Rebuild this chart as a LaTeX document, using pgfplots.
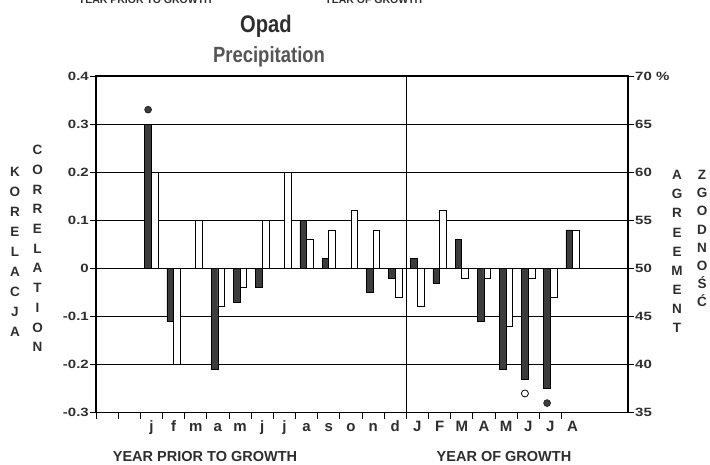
\documentclass[border=0pt]{standalone}
\usepackage{fontspec}
\setmainfont{Liberation Sans}
\newfontfamily\narrowfont{Liberation Sans}[FakeStretch=0.84]
\newfontfamily\widefont{Liberation Sans}[FakeStretch=1.25]
\usepackage{pgfplots}
\usepackage{pgfplotstable}
\pgfplotsset{compat=1.18}
\definecolor{txt}{HTML}{2E2E2E}
\definecolor{sub}{HTML}{555555}
\definecolor{barc}{HTML}{3C3C3C}

% x = slot centre, r = correlation, a = agreement (%)
\pgfplotstableread{
x r a
2.5 0.30 60
3.5 -0.11 40
4.5 0.00 55
5.5 -0.21 46
6.5 -0.07 48
7.5 -0.04 55
8.5 0.00 60
9.5 0.10 53
10.5 0.02 54
11.5 0.00 56
12.5 -0.05 54
13.5 -0.02 47
14.5 0.02 46
15.5 -0.03 56
16.5 0.06 49
17.5 -0.11 49
18.5 -0.21 44
19.5 -0.23 49
20.5 -0.25 47
21.5 0.08 54
}\data

\pgfplotstableread{
x r
2.35 0.33
20.35 -0.28
}\sigfilled

\pgfplotstableread{
x r
19.35 -0.26
}\sigopen

\begin{document}
\begin{tikzpicture}[x=1pt,y=1pt]
\useasboundingbox (0,0) rectangle (710,464);
\clip (0,0) rectangle (710,464);
\begin{axis}[
  at={(96pt,51.3pt)}, anchor=south west,
  scale only axis, width=532pt, height=336.7pt,
  xmin=0, xmax=24, ymin=-0.3, ymax=0.4,
  axis line style={line width=1.1pt, black},
  ytick={-0.3,-0.2,-0.1,0,0.1,0.2,0.3,0.4},
  yticklabels={-0.3,-0.2,-0.1,0,0.1,0.2,0.3,0.4},
  ytick pos=left,
  xtick={0,1,...,21},
  xticklabels={},
  xtick pos=bottom,
  tick align=outside,
  major tick length=6pt,
  tick style={black, line width=1pt},
  ymajorgrids,
  major grid style={black, line width=0.9pt},
  yticklabel style={font=\widefont\bfseries\fontsize{12}{12}\selectfont, text=txt, inner sep=1pt},
  extra x ticks={2.5,3.5,4.5,5.5,6.5,7.5,8.5,9.5,10.5,11.5,12.5,13.5,14.5,15.5,16.5,17.5,18.5,19.5,20.5,21.5},
  extra x tick labels={j,f,m,a,m,j,j,a,s,o,n,d,J,F,M,A,M,J,J,A},
  extra x tick style={major tick length=0pt,
    xticklabel style={font=\bfseries\fontsize{15}{15}\selectfont, text=txt,
      anchor=north, inner sep=0pt, text height=11pt, text depth=0pt, yshift=-8pt}},
]
\addplot[ybar, bar width=0.3, bar shift=-0.15, fill=barc, draw=black, line width=0.6pt]
  table[x=x, y=r]{\data};
\addplot[ybar, bar width=0.3, bar shift=0.15, fill=white, draw=black, line width=0.8pt]
  table[x=x, y expr={(\thisrow{a}-50)*0.02}]{\data};
\addplot[only marks, mark=*, mark size=3.5pt, mark options={fill=barc, draw=black}]
  table[x=x, y=r]{\sigfilled};
\addplot[only marks, mark=o, mark size=3.5pt, mark options={draw=black, line width=0.8pt}]
  table[x=x, y=r]{\sigopen};
\draw[line width=1pt, black] (axis cs:14,-0.3) -- (axis cs:14,0.4);
\end{axis}
\begin{axis}[
  at={(96pt,51.3pt)}, anchor=south west,
  scale only axis, width=532pt, height=336.7pt,
  xmin=0, xmax=24, ymin=35, ymax=70,
  axis x line=none, axis y line*=right,
  axis line style={line width=1.1pt, black},
  ytick={35,40,45,50,55,60,65,70},
  yticklabels={35,40,45,50,55,60,65,70 \%},
  tick align=outside,
  major tick length=6pt,
  tick style={black, line width=1pt},
  yticklabel style={font=\widefont\bfseries\fontsize{12}{12}\selectfont, text=txt, inner sep=1pt, anchor=west},
]
\end{axis}
\node[anchor=base, font=\narrowfont\bfseries\fontsize{24}{24}\selectfont, text=txt] at (266,431) {Opad};
\node[anchor=base, font=\narrowfont\bfseries\fontsize{22}{22}\selectfont, text=sub] at (269,401.5) {Precipitation};
\node[align=center, inner sep=0pt, font=\bfseries\fontsize{13.5}{20}\selectfont, text=txt] at (15,212) {K\\O\\R\\E\\L\\A\\C\\J\\A};
\node[align=center, inner sep=0pt, font=\bfseries\fontsize{13.5}{19.7}\selectfont, text=txt] at (37.5,215.5) {C\\O\\R\\R\\E\\L\\A\\T\\I\\O\\N};
\node[align=center, inner sep=0pt, font=\bfseries\fontsize{13.5}{19.1}\selectfont, text=txt] at (677,212.5) {A\\G\\R\\E\\E\\M\\E\\N\\T};
\node[align=center, inner sep=0pt, font=\bfseries\fontsize{13.5}{18.1}\selectfont, text=txt] at (702,225.5) {Z\\G\\O\\D\\N\\O\\Ś\\Ć};
\node[anchor=base, font=\bfseries\fontsize{14.5}{14.5}\selectfont, text=txt] at (205,2.3) {YEAR PRIOR TO GROWTH};
\node[anchor=base, font=\bfseries\fontsize{14.5}{14.5}\selectfont, text=txt] at (504,2.3) {YEAR OF GROWTH};
\node[anchor=base, font=\bfseries\fontsize{10.5}{10.5}\selectfont, text=txt] at (145,460) {YEAR PRIOR TO GROWTH};
\node[anchor=base, font=\bfseries\fontsize{10.5}{10.5}\selectfont, text=txt] at (373.5,460) {YEAR OF GROWTH};
\end{tikzpicture}
\end{document}
